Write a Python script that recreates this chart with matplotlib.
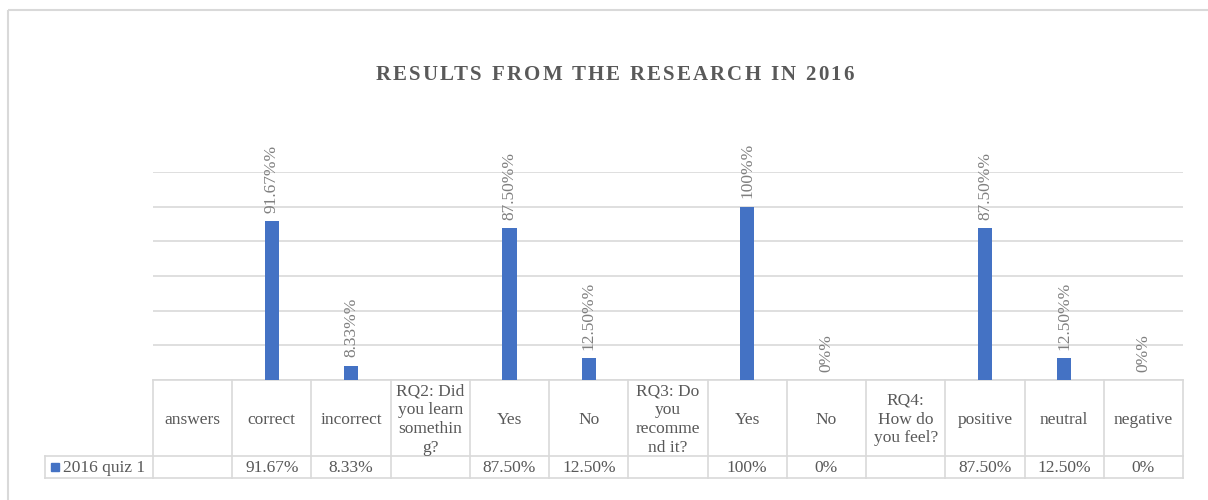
import numpy as np
import matplotlib
matplotlib.use("Agg")
import matplotlib.pyplot as plt
from matplotlib.transforms import blended_transform_factory
from matplotlib.patches import Rectangle
from matplotlib.font_manager import FontProperties

# chart data
categories = ["answers", "correct", "incorrect", "RQ2: Did\nyou learn\nsomethin\ng?",
              "Yes", "No", "RQ3: Do\nyou\nrecomme\nnd it?", "Yes", "No",
              "RQ4:\nHow do\nyou feel?", "positive", "neutral", "negative"]
values = [np.nan, 91.67, 8.33, np.nan, 87.5, 12.5, np.nan, 100, 0, np.nan, 87.5, 12.5, 0]
table_labels = ["", "91.67%", "8.33%", "", "87.50%", "12.50%", "", "100%", "0%",
                "", "87.50%", "12.50%", "0%"]
series_name = "2016 quiz 1"
title = "RESULTS FROM THE RESEARCH IN 2016"

W, H = 1208, 500
bar_color = "#4472C4"
grid_color = "#d9d9d9"
text_color = "#595959"
serif = ["Liberation Serif", "DejaVu Serif"]
fs = 12.5

fig = plt.figure(figsize=(W / 100, H / 100), dpi=100)

# full-figure overlay in pixel coordinates (y down)
over = fig.add_axes([0, 0, 1, 1])
over.set_xlim(0, W)
over.set_ylim(H, 0)
over.axis("off")

# plot area
left, right, top, bottom = 153, 1183, 172, 380
ax = fig.add_axes([left / W, 1 - bottom / H, (right - left) / W, (bottom - top) / H])
n = len(categories)
x = np.arange(n)
ax.bar(x, values, width=0.18, color=bar_color, zorder=3)
ax.set_xlim(-0.5, n - 0.5)
ax.set_ylim(0, 120)
ax.set_yticks(np.arange(0, 121, 20))
ax.yaxis.grid(True, color=grid_color, linewidth=1.2)
ax.set_axisbelow(True)
ax.tick_params(left=False, bottom=False, labelleft=False, labelbottom=False)
for s in ax.spines.values():
    s.set_visible(False)
ax.patch.set_alpha(0)

# data labels
for xi, v, lab in zip(x, values, table_labels):
    if np.isnan(v):
        continue
    ax.annotate(lab + "%", (xi, v), xytext=(0, 6), textcoords="offset points",
                rotation=90, ha="center", va="bottom", fontsize=fs,
                family=serif, color="#7f7f7f", annotation_clip=False)

# data table below the axis
tr = blended_transform_factory(ax.transData, over.transData)
row1_top, row_split, row2_bot = 380, 456, 478
lc = dict(color=grid_color, linewidth=1.2, clip_on=False)
over.plot([left, right], [row1_top, row1_top], **lc)
over.plot([45, right], [row_split, row_split], **lc)
over.plot([45, right], [row2_bot, row2_bot], **lc)
over.plot([45, 45], [row_split, row2_bot], **lc)
for b in np.arange(n + 1) - 0.5:
    over.plot([b, b], [row1_top, row2_bot], transform=tr, **lc)

for xi, cat, lab in zip(x, categories, table_labels):
    over.text(xi, (row1_top + row_split) / 2 + 1.5, cat, transform=tr, ha="center",
              va="center", fontsize=fs, family=serif, color=text_color,
              linespacing=1.24, multialignment="center")
    over.text(xi, (row_split + row2_bot) / 2 + 1, lab, transform=tr, ha="center",
              va="center", fontsize=fs, family=serif, color=text_color)

# legend key in the table
over.add_patch(Rectangle((51, 463), 8, 8, color=bar_color))
over.text(63, (row_split + row2_bot) / 2 + 1, series_name, ha="left", va="center",
          fontsize=fs, family=serif, color=text_color)

# title, drawn char by char to get the wide letter spacing
fp = FontProperties(family=serif, weight="bold", size=15)
renderer = fig.canvas.get_renderer()
def text_w(s):
    return renderer.get_text_width_height_descent(s, fp, ismath=False)[0]
spacing = 2.2
total = text_w(title) + spacing * (len(title) - 1)
x0 = 614.5 - total / 2
for k, ch in enumerate(title):
    if ch == " ":
        continue
    pos = text_w(title[:k + 1]) - text_w(ch)
    over.text(x0 + pos + k * spacing, 75, ch, ha="left", va="center",
              fontproperties=fp, color=text_color)

# chart frame
over.add_patch(Rectangle((8, 10), W, H, fill=False, edgecolor=grid_color, linewidth=1.5))

fig.savefig("out.png", dpi=100)
